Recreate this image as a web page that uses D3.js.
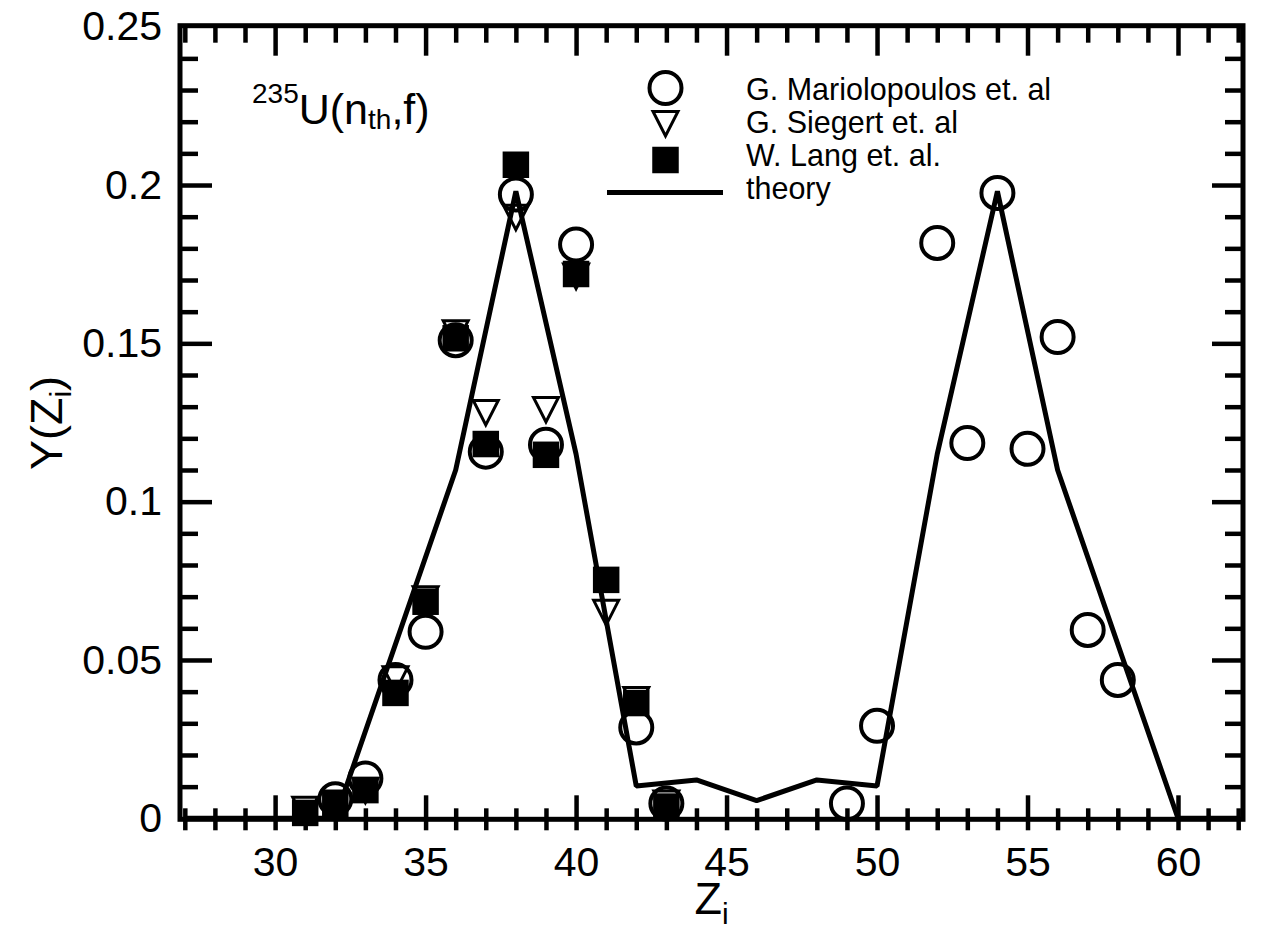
<!DOCTYPE html>
<html>
<head>
<meta charset="utf-8">
<script src="https://cdn.jsdelivr.net/npm/d3@7"></script>
<style>
  html, body { margin: 0; padding: 0; background: #fff; }
  svg { display: block; }
</style>
</head>
<body>
<svg id="chart" width="1268" height="934"></svg>
<script>
// ---------------- data ----------------
const marioZ = [32, 33, 34, 35, 36, 37, 38, 39, 40, 42, 43, 49, 50, 52, 53, 54, 55, 56, 57, 58];
const marioY = [0.006, 0.0126, 0.0437, 0.0589, 0.151, 0.1158, 0.197, 0.118, 0.1812, 0.0287, 0.0047,
                0.0047, 0.0292, 0.1817, 0.1185, 0.1975, 0.1167, 0.152, 0.0595, 0.0437];

const siegertZ = [31, 32, 33, 34, 35, 36, 37, 38, 39, 40, 41, 42, 43];
const siegertY = [0.003, 0.005, 0.009, 0.0442, 0.0695, 0.1535, 0.1283, 0.190, 0.1293, 0.1714, 0.0652, 0.0377, 0.005];

const langZ = [31, 32, 33, 34, 35, 36, 37, 38, 39, 40, 41, 42, 43];
const langY = [0.0017, 0.0042, 0.0089, 0.0396, 0.0684, 0.1516, 0.1182, 0.2064, 0.1148, 0.1719, 0.0753, 0.0364, 0.0037];

const theoryZ = [27, 32, 36, 38, 40, 42, 44, 46, 48, 50, 52, 54, 56, 60, 62];
const theoryY = [0, 0, 0.110, 0.198, 0.115, 0.0102, 0.0121, 0.0056, 0.0121, 0.0102, 0.115, 0.198, 0.110, 0, 0];

const xTickLabels = [30, 35, 40, 45, 50, 55, 60];
const yTickLabels = [0, 0.05, 0.1, 0.15, 0.2, 0.25];
const legendLabels = ["G. Mariolopoulos et. al", "G. Siegert et. al", "W. Lang et. al.", "theory"];

// ---------------- layout ----------------
const FONT = "'Liberation Sans', Arial, Helvetica, sans-serif";
const svg = d3.select("#chart");
const x = d3.scaleLinear().domain([26.84, 62.16]).range([180, 1243]);
const y = d3.scaleLinear().domain([0, 0.25]).range([818.3, 26.7]);

const fLeft = x.range()[0], fRight = x.range()[1];
const fTop = y(0.25) - 1, fBottom = y(0) + 1;

const xMinor = d3.range(27, 63);
const yMinor = d3.range(1, 25).map(d => +(d / 100).toFixed(2));
const isMajorX = d => d % 5 === 0;
const isMajorY = d => Math.round(d * 100) % 5 === 0;

// ---------------- theory line ----------------
const theory = theoryZ.map((z, i) => [z, theoryY[i]]);
svg.append("path")
  .datum(theory)
  .attr("d", d3.line().x(d => x(d[0])).y(d => y(d[1])))
  .attr("fill", "none")
  .attr("stroke", "#000")
  .attr("stroke-width", 5)
  .attr("stroke-linejoin", "bevel");

// ---------------- frame + ticks via d3 axes ----------------
function styleAxis(g) {
  g.select(".domain").remove();
  g.selectAll(".tick line").attr("stroke", "#000").attr("stroke-width", 4.5);
}

svg.append("g").attr("transform", `translate(0,${fBottom})`)
  .call(d3.axisBottom(x).tickValues(xMinor).tickSize(0).tickFormat(""))
  .call(styleAxis)
  .call(g => g.selectAll(".tick line")
    .attr("y1", d => isMajorX(d) ? -24 : -11)
    .attr("y2", 11));

svg.append("g").attr("transform", `translate(0,${fTop})`)
  .call(d3.axisTop(x).tickValues(xMinor).tickFormat("").tickSize(0))
  .call(styleAxis)
  .call(g => g.selectAll(".tick line")
    .attr("y1", 0)
    .attr("y2", d => isMajorX(d) ? 30 : 17));

svg.append("g").attr("transform", `translate(${fLeft},0)`)
  .call(d3.axisLeft(y).tickValues(yMinor).tickFormat("").tickSize(0))
  .call(styleAxis)
  .call(g => g.selectAll(".tick line")
    .attr("x1", 0)
    .attr("x2", d => isMajorY(d) ? 32 : 18));

svg.append("g").attr("transform", `translate(${fRight},0)`)
  .call(d3.axisRight(y).tickValues(yMinor).tickFormat("").tickSize(0))
  .call(styleAxis)
  .call(g => g.selectAll(".tick line")
    .attr("x1", 0)
    .attr("x2", d => isMajorY(d) ? -31 : -18));

svg.append("rect")
  .attr("x", fLeft).attr("y", fTop)
  .attr("width", fRight - fLeft).attr("height", fBottom - fTop)
  .attr("fill", "none").attr("stroke", "#000").attr("stroke-width", 5);

// tick labels
svg.append("g").attr("transform", `translate(0,${fBottom})`)
  .call(d3.axisBottom(x).tickValues(xTickLabels).tickSize(0).tickPadding(28)
    .tickFormat(d3.format("d")))
  .call(g => g.select(".domain").remove())
  .call(g => g.selectAll("text").attr("font-family", FONT).attr("font-size", 41).attr("fill", "#000"));

svg.append("g").attr("transform", `translate(${fLeft},0)`)
  .call(d3.axisLeft(y).tickValues(yTickLabels).tickSize(0).tickPadding(18)
    .tickFormat(d => String(d)))
  .call(g => g.select(".domain").remove())
  .call(g => g.selectAll("text").attr("font-family", FONT).attr("font-size", 41).attr("fill", "#000"));

// ---------------- markers ----------------
const CIRC_R = 16, SQ = 26.5;
const triPath = "M-12.5,-11.5 L12.5,-11.5 L0,13 Z";

function drawCircles(g, xs, ys) {
  g.selectAll(null).data(xs.map((z, i) => [z, ys[i]])).enter().append("circle")
    .attr("cx", d => x(d[0])).attr("cy", d => y(d[1])).attr("r", CIRC_R)
    .attr("fill", "none").attr("stroke", "#000").attr("stroke-width", 4);
}
function drawTris(g, xs, ys) {
  g.selectAll(null).data(xs.map((z, i) => [z, ys[i]])).enter().append("path")
    .attr("d", triPath)
    .attr("transform", d => `translate(${x(d[0])},${y(d[1])})`)
    .attr("fill", "none").attr("stroke", "#000").attr("stroke-width", 3)
    .attr("stroke-linejoin", "miter");
}
function drawSquares(g, xs, ys) {
  g.selectAll(null).data(xs.map((z, i) => [z, ys[i]])).enter().append("rect")
    .attr("x", d => x(d[0]) - SQ / 2).attr("y", d => y(d[1]) - SQ / 2)
    .attr("width", SQ).attr("height", SQ).attr("fill", "#000");
}

const marks = svg.append("g");
drawCircles(marks.append("g"), marioZ, marioY);
drawTris(marks.append("g"), siegertZ, siegertY);
drawSquares(marks.append("g"), langZ, langY);

// ---------------- legend ----------------
const legSymX = 665.5, legTextX = 746;
const legSymY = [88, 123, 160, 192.5];
const legBase = [100, 133, 166, 199];
const leg = svg.append("g");
leg.append("circle").attr("cx", legSymX).attr("cy", legSymY[0]).attr("r", CIRC_R)
  .attr("fill", "none").attr("stroke", "#000").attr("stroke-width", 4);
leg.append("path").attr("d", triPath).attr("transform", `translate(${legSymX},${legSymY[1]})`)
  .attr("fill", "none").attr("stroke", "#000").attr("stroke-width", 3);
leg.append("rect").attr("x", legSymX - SQ / 2).attr("y", legSymY[2] - SQ / 2)
  .attr("width", SQ).attr("height", SQ).attr("fill", "#000");
leg.append("line").attr("x1", 607).attr("x2", 723).attr("y1", legSymY[3]).attr("y2", legSymY[3])
  .attr("stroke", "#000").attr("stroke-width", 5);
leg.selectAll("text.lab").data(legendLabels).enter().append("text")
  .attr("class", "lab")
  .attr("x", legTextX).attr("y", (d, i) => legBase[i])
  .attr("font-family", FONT).attr("font-size", 30.5).attr("fill", "#000")
  .text(d => d);

// ---------------- annotation ----------------
const ann = svg.append("text").attr("x", 252).attr("y", 124)
  .attr("font-family", FONT).attr("font-size", 43).attr("fill", "#000");
ann.append("tspan").attr("font-size", 28).attr("dy", -21).text("235");
ann.append("tspan").attr("dy", 21).text("U(n");
ann.append("tspan").attr("font-size", 28).attr("dy", 5).text("th");
ann.append("tspan").attr("dy", -5).text(",f)");

// ---------------- axis titles ----------------
const yt = svg.append("text")
  .attr("transform", "translate(62,423) rotate(-90)")
  .attr("text-anchor", "middle")
  .attr("font-family", FONT).attr("font-size", 45).attr("fill", "#000");
yt.append("tspan").text("Y(Z");
yt.append("tspan").attr("font-size", 30).attr("dy", 9).text("i");
yt.append("tspan").attr("dy", -9).text(")");

const xt = svg.append("text")
  .attr("x", (fLeft + fRight) / 2).attr("y", 914)
  .attr("text-anchor", "middle")
  .attr("font-family", FONT).attr("font-size", 45).attr("fill", "#000");
xt.append("tspan").text("Z");
xt.append("tspan").attr("font-size", 30).attr("dy", 10).text("i");
</script>
</body>
</html>
